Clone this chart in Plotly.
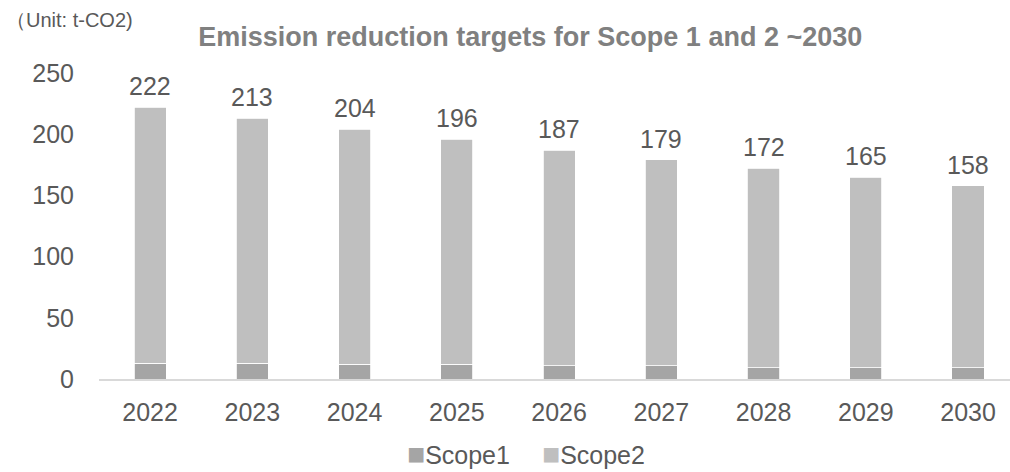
import plotly.graph_objects as go

# Emission reduction targets, t-CO2
years = ["2022", "2023", "2024", "2025", "2026", "2027", "2028", "2029", "2030"]
scope1 = [13, 13, 12, 12, 11, 11, 9, 9, 9]
scope2 = [209, 200, 192, 184, 176, 168, 163, 156, 149]
totals = [a + b for a, b in zip(scope1, scope2)]

FONT = "Liberation Sans, Arial, sans-serif"
TXT = "#595959"
C1, C2 = "#a5a5a5", "#bfbfbf"

fig = go.Figure()
fig.add_trace(go.Bar(
    x=years, y=scope1, name="Scope1", showlegend=False,
    marker=dict(color=C1, line=dict(color="#ffffff", width=0.8)),
    width=0.315,
))
fig.add_trace(go.Bar(
    x=years, y=scope2, name="Scope2", showlegend=False,
    marker=dict(color=C2, line=dict(color="#ffffff", width=0.8)),
    width=0.315,
))

# total labels above each stacked bar (category index positions)
for i, t in enumerate(totals):
    fig.add_annotation(
        x=i, y=t, text=str(t), showarrow=False,
        yanchor="bottom", yshift=5,
        font=dict(family=FONT, size=25, color=TXT),
    )

# series key below the axis
for xpos, name, col in [(0.336, "Scope1", C1), (0.484, "Scope2", C2)]:
    fig.add_annotation(
        xref="paper", yref="paper", x=xpos, y=-0.245,
        xanchor="left", yanchor="middle", showarrow=False,
        text=f"<span style='font-size:30px;color:{col}'>■</span>{name}",
        font=dict(family=FONT, size=25, color=TXT),
    )

fig.add_annotation(
    xref="paper", yref="paper", x=-0.104, y=1.173,
    xanchor="left", yanchor="middle",
    text="（Unit: t-CO2)", showarrow=False,
    font=dict(family=FONT, size=20, color=TXT),
)

fig.update_layout(
    width=1010, height=472,
    margin=dict(l=99, r=0, t=73, b=93),
    paper_bgcolor="white", plot_bgcolor="white",
    barmode="stack", showlegend=False,
    title=dict(
        text="<b>Emission reduction targets for Scope 1 and 2 ~2030</b>",
        x=0.525, xanchor="center", y=0.9227, yanchor="middle",
        font=dict(family=FONT, size=27, color="#808080"),
    ),
    xaxis=dict(
        type="category",
        range=[-0.5, 8.41], showgrid=False, ticks="",
        showline=True, linecolor="#d9d9d9", linewidth=1.5,
        tickfont=dict(family=FONT, size=25, color=TXT),
        ticklabelstandoff=10,
    ),
    yaxis=dict(
        range=[0, 250], dtick=50, showgrid=False, zeroline=False,
        showline=False, ticks="",
        tickfont=dict(family=FONT, size=25, color=TXT),
        ticklabelstandoff=24,
    ),
)

fig.write_html("out.html")
